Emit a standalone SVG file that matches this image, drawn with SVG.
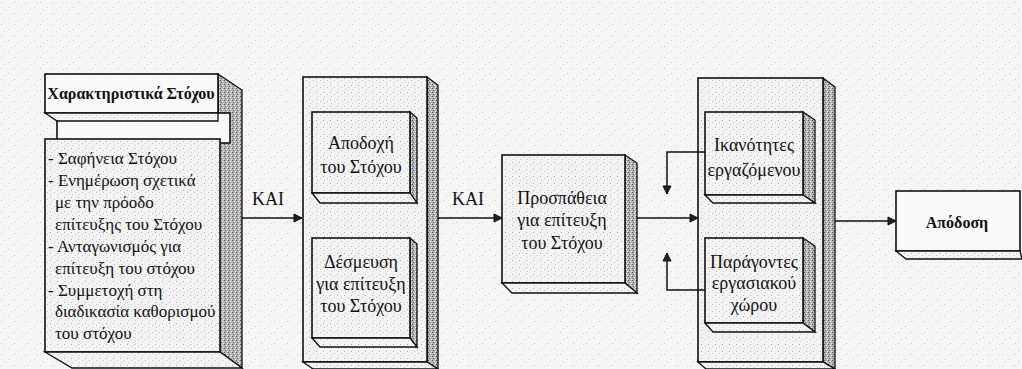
<svg xmlns="http://www.w3.org/2000/svg" width="1022" height="369" viewBox="0 0 1022 369">
  <defs>
    <pattern id="bgdots" width="13" height="11" patternUnits="userSpaceOnUse">
      <rect width="13" height="11" fill="#f6f6f6"/>
      <rect x="1" y="2" width="1" height="1" fill="#c6c6c6"/>
      <rect x="8" y="7" width="1" height="1" fill="#d0d0d0"/>
      <rect x="11" y="3" width="1" height="1" fill="#dadada"/>
      <rect x="4" y="9" width="1" height="1" fill="#d4d4d4"/>
    </pattern>
    <pattern id="light" width="7" height="7" patternUnits="userSpaceOnUse">
      <rect width="7" height="7" fill="#f3f3f3"/>
      <rect x="1" y="1" width="1" height="1" fill="#b0b0b0"/>
      <rect x="5" y="3" width="1" height="1" fill="#c4c4c4"/>
      <rect x="2" y="5" width="1" height="1" fill="#cccccc"/>
    </pattern>
    <pattern id="dark" width="4" height="4" patternUnits="userSpaceOnUse">
      <rect width="4" height="4" fill="#b4b4b4"/>
      <rect x="0" y="0" width="1" height="1" fill="#555"/>
      <rect x="2" y="1" width="1" height="1" fill="#eee"/>
      <rect x="1" y="2" width="1" height="1" fill="#666"/>
      <rect x="3" y="3" width="1" height="1" fill="#e8e8e8"/>
    </pattern>
    <marker id="arr" markerWidth="10" markerHeight="10" refX="9" refY="5" orient="auto" markerUnits="userSpaceOnUse">
      <path d="M1,1 L9,5 L1,9 Z" fill="#222" stroke="#111" stroke-width="1"/>
    </marker>
    <style>
      .front { fill: url(#light); stroke: #111; stroke-width: 1.6; }
      .white { fill: #fafafa; stroke: #111; stroke-width: 1.6; }
      .side { fill: url(#dark); stroke: #111; stroke-width: 1.3; }
      .bottom { fill: url(#light); stroke: #111; stroke-width: 1.3; }
      .t { font-family: 'Liberation Serif', 'Times New Roman', serif; font-size: 18px; fill: #111; }
      .s { font-size: 17px; }
      .c { text-anchor: middle; }
      .b { font-weight: bold; }
      .conn { fill: none; stroke: #111; stroke-width: 1.5; }
    </style>
  </defs>

  <rect x="0" y="0" width="1022" height="369" fill="url(#bgdots)"/>

  <g id="node-characteristics">
    <polygon class="side" points="218,74 242,90 242,368 220,352"/>
    <rect class="white" x="57" y="113" width="173" height="30"/>
    <rect class="white" x="45" y="74" width="173" height="39"/>
    <polygon class="bottom" points="45,113 57,121 218,121 218,113"/>
    <rect class="front" x="45" y="139" width="175" height="213"/>
    <polygon class="bottom" points="45,352 72,368 242,368 220,352"/>
    <text class="t b c" x="131" y="99" style="font-size:16px">Χαρακτηριστικά Στόχου</text>
    <text class="t s" x="48" y="164">- Σαφήνεια Στόχου</text>
    <text class="t s" x="48" y="186">- Ενημέρωση σχετικά</text>
    <text class="t s" x="55" y="208">με την πρόοδο</text>
    <text class="t s" x="55" y="230">επίτευξης του Στόχου</text>
    <text class="t s" x="48" y="252">- Ανταγωνισμός για</text>
    <text class="t s" x="55" y="274">επίτευξη του στόχου</text>
    <text class="t s" x="48" y="296">- Συμμετοχή στη</text>
    <text class="t s" x="55" y="317">διαδικασία καθορισμού</text>
    <text class="t s" x="55" y="339">του στόχου</text>
  </g>

  <g id="node-group2">
    <polygon class="side" points="427,77 438,85 438,369 427,362"/>
    <rect class="front" x="303" y="77" width="124" height="285"/>
    <polygon class="bottom" points="303,362 313,369 438,369 427,362"/>
  </g>
  <g id="node-acceptance">
    <polygon class="side" points="410,112 417,118 417,203 410,193"/>
    <rect class="front" x="312" y="112" width="98" height="81"/>
    <polygon class="bottom" points="312,193 320,203 417,203 410,193"/>
    <text class="t c" x="361" y="149">Αποδοχή</text>
    <text class="t c" x="361" y="173">του Στόχου</text>
  </g>
  <g id="node-commitment">
    <polygon class="side" points="410,238 417,244 417,347 410,338"/>
    <rect class="front" x="312" y="238" width="98" height="100"/>
    <polygon class="bottom" points="312,338 320,347 417,347 410,338"/>
    <text class="t c" x="361" y="268">Δέσμευση</text>
    <text class="t c" x="361" y="290">για επίτευξη</text>
    <text class="t c" x="361" y="312">του Στόχου</text>
  </g>

  <g id="node-effort">
    <polygon class="side" points="625,155 637,163 637,293 625,283"/>
    <rect class="front" x="502" y="155" width="123" height="128"/>
    <polygon class="bottom" points="502,283 512,293 637,293 625,283"/>
    <text class="t c" x="562" y="204">Προσπάθεια</text>
    <text class="t c" x="562" y="226">για επίτευξη</text>
    <text class="t c" x="562" y="249">του Στόχου</text>
  </g>

  <g id="node-group4">
    <polygon class="side" points="823,78 835,87 835,369 823,362"/>
    <rect class="front" x="698" y="78" width="125" height="284"/>
    <polygon class="bottom" points="698,362 706,369 835,369 823,362"/>
  </g>
  <g id="node-abilities">
    <polygon class="side" points="803,112 815,120 815,203 803,195"/>
    <rect class="front" x="705" y="112" width="98" height="83"/>
    <polygon class="bottom" points="705,195 713,203 815,203 803,195"/>
    <text class="t c" x="754" y="151">Ικανότητες</text>
    <text class="t c" x="754" y="176">εργαζόμενου</text>
  </g>
  <g id="node-workplace">
    <polygon class="side" points="803,238 815,246 815,332 803,323"/>
    <rect class="front" x="705" y="238" width="98" height="85"/>
    <polygon class="bottom" points="705,323 713,332 815,332 803,323"/>
    <text class="t c" x="754" y="268">Παράγοντες</text>
    <text class="t c" x="754" y="289">εργασιακού</text>
    <text class="t c" x="754" y="311">χώρου</text>
  </g>

  <g id="node-performance">
    <rect class="white" x="896" y="191" width="124" height="60"/>
    <polygon class="bottom" points="896,251 906,259 1022,259 1020,251"/>
    <text class="t b c" x="957" y="228" style="font-size:16px">Απόδοση</text>
  </g>

  <g id="connectors">
    <line class="conn" x1="242" y1="218" x2="302" y2="218" marker-end="url(#arr)"/>
    <line class="conn" x1="438" y1="218" x2="502" y2="218" marker-end="url(#arr)"/>
    <line class="conn" x1="637" y1="218" x2="698" y2="218" marker-end="url(#arr)"/>
    <line class="conn" x1="835" y1="221" x2="896" y2="221" marker-end="url(#arr)"/>
    <polyline class="conn" points="705,152 667,152 667,194" marker-end="url(#arr)"/>
    <polyline class="conn" points="705,290 667,290 667,253" marker-end="url(#arr)"/>
    <text class="t" x="252" y="205">ΚΑΙ</text>
    <text class="t" x="452" y="205">ΚΑΙ</text>
  </g>
</svg>
